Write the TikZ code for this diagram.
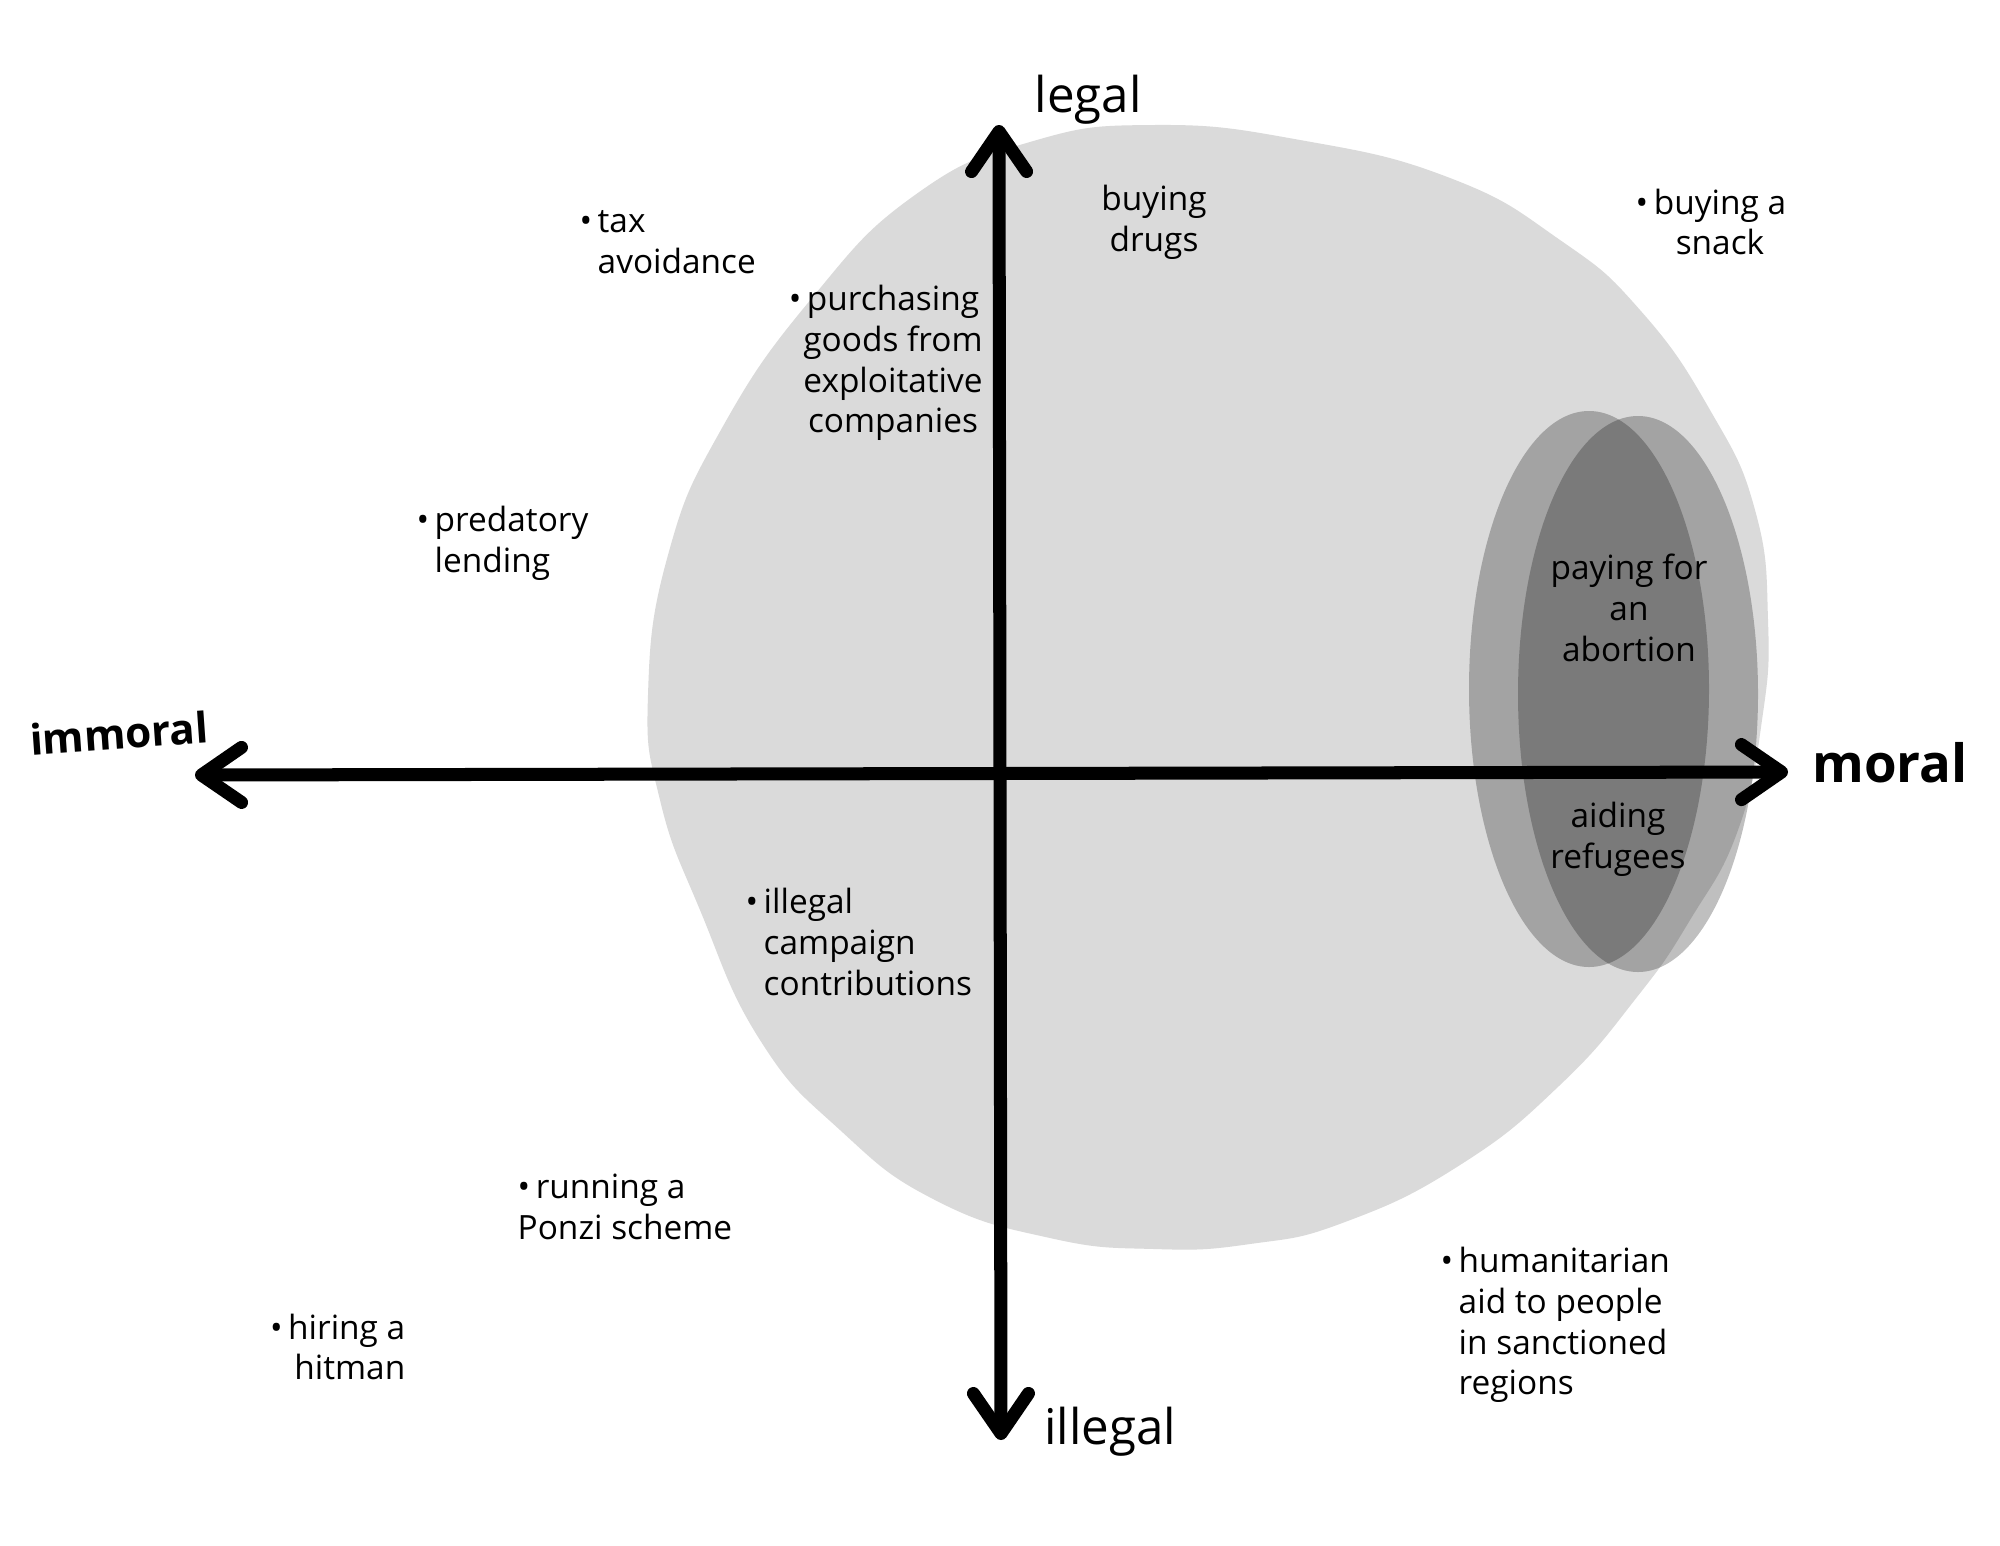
\documentclass[tikz,border=0pt]{standalone}
\usepackage{fontspec}
\setmainfont{Open Sans}
\usetikzlibrary{arrows.meta,positioning}
\definecolor{blobgray}{RGB}{218,218,218}
\tikzset{
  item/.style={font=\fontsize{9.5}{11.6}\selectfont, inner sep=0pt},
  axislabel/.style={font=\fontsize{14}{16}\selectfont, inner sep=0pt},
  axisline/.style={line width=3.7pt, line cap=round, >={Straight Barb[length=4mm,width=5.5mm,round]}},
  region/.style={fill=black, fill opacity=0.25}
}
\newcommand{\bul}{\llap{\textbullet\,}}

\begin{document}
\begin{tikzpicture}[x=0.01cm,y=-0.01cm]
  \useasboundingbox (0,0) rectangle (2000,1545);
  \fill[white] (0,0) rectangle (2000,1545);
  % the big blob
  \fill[blobgray] plot[smooth cycle, tension=0.8] coordinates {
    (1154,125) (1300,140) (1450,178) (1560,240) (1640,310) (1710,410)
    (1755,510) (1768,620) (1762,720) (1738,830) (1690,920) (1637,997)
    (1560,1085) (1460,1165) (1345,1222) (1250,1244) (1154,1249) (1050,1238)
    (935,1200) (840,1130) (760,1040) (700,910) (660,800) (648,695) (668,555)
    (722,428) (812,298) (915,195) (1030,142)};
  % the two overlapping ovals
  \fill[region] (1589,689) ellipse [x radius=120, y radius=278];
  \fill[region] (1638,694) ellipse [x radius=120, y radius=278];
  % axes
  \coordinate (top) at (999,125);
  \coordinate (bottom) at (1001,1440);
  \coordinate (left) at (195,775);
  \coordinate (right) at (1788,772);
  \draw[axisline, <->] (bottom) -- (top);
  \draw[axisline, <->] (left) -- (right);
  \node[axislabel] (legal) at (1088,100) {legal};
  \node[axislabel] (illegal) at (1110,1432) {illegal};
  \node[axislabel, font=\fontsize{12}{14}\selectfont\bfseries, rotate=4] (immoral) at (119,733) {immoral};
  \node[axislabel, font=\fontsize{15}{17}\selectfont\bfseries] (moral) at (1890,763) {moral};
  % the examples
  \node[item, anchor=west, align=left] (tax) at (597,242) {\bul tax\\avoidance};
  \node[item, align=center] (drugs) at (1154,222) {buying\\drugs};
  \node[item, align=center] (snack) at (1720,222) {\bul buying a\\snack};
  \node[item, align=center] (purchasing) at (893,363) {\bul purchasing\\goods from\\exploitative\\companies};
  \node[item, anchor=west, align=left] (predatory) at (434,543) {\bul predatory\\lending};
  \node[item, align=center] (abortion) at (1629,608) {paying for\\an\\abortion};
  \node[item, align=center] (refugees) at (1618,839) {aiding\\refugees};
  \node[item, anchor=west, align=left] (campaign) at (763,942) {\bul illegal\\campaign\\contributions};
  \node[item, anchor=west, align=left] (ponzi) at (517,1207) {\textbullet\,running a\\Ponzi scheme};
  \node[item, anchor=east, align=right] (hitman) at (406,1347) {\textbullet\,hiring a\\hitman};
  \node[item, anchor=west, align=left] (humanitarian) at (1458,1325) {\bul humanitarian\\aid to people\\in sanctioned\\regions};
\end{tikzpicture}
\end{document}
